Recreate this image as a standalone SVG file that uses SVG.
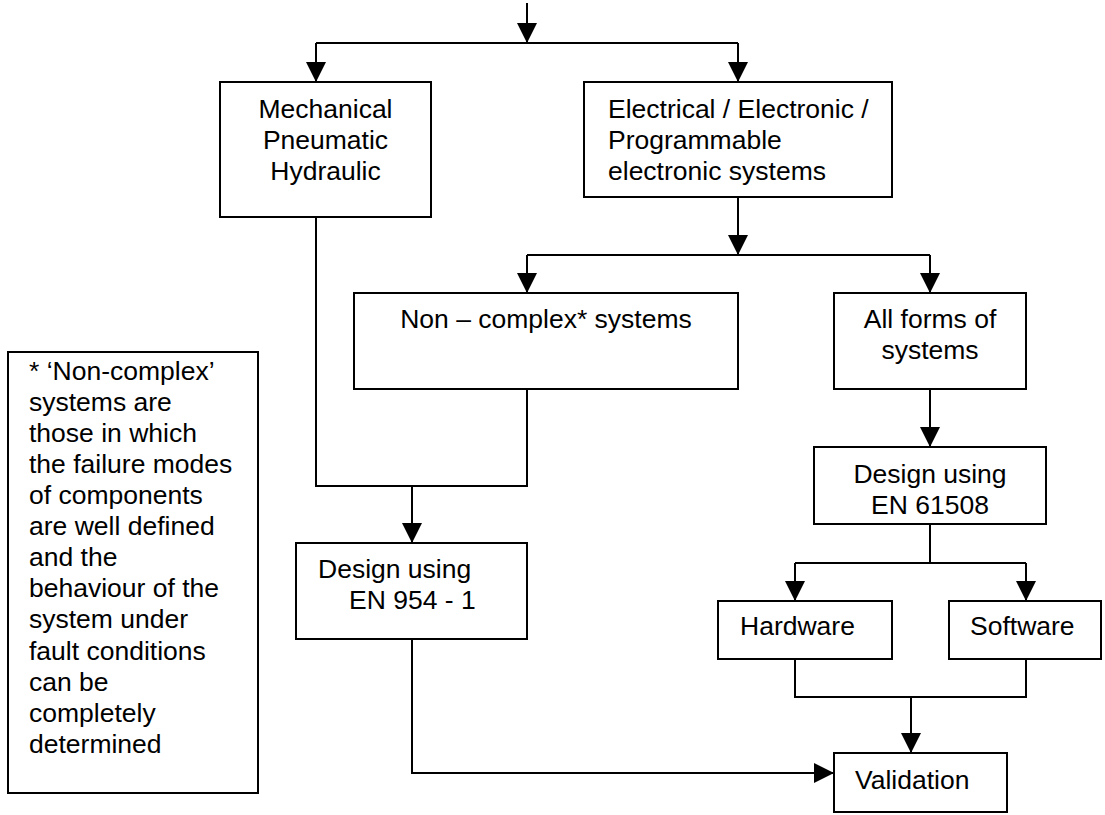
<svg xmlns="http://www.w3.org/2000/svg" width="1105" height="815" viewBox="0 0 1105 815">
<defs>
<marker id="arr" markerUnits="userSpaceOnUse" markerWidth="20" markerHeight="20" viewBox="0 0 20 20" refX="20" refY="10" orient="auto">
<path d="M0,0 L20,10 L0,20 z" fill="#000"/>
</marker>
<style>
.box{fill:#fff;stroke:#000;stroke-width:2}
.t{font-family:"Liberation Sans",Arial,sans-serif;font-size:26.5px;fill:#000}
.c{text-anchor:middle}
.ln{fill:none;stroke:#000;stroke-width:2}
.a{marker-end:url(#arr)}
</style>
</defs>
<rect width="1105" height="815" fill="#fff"/>
<g id="connectors">
<path class="ln a" d="M527,3 V43"/>
<path class="ln" d="M316,43 H738"/>
<path class="ln a" d="M316,43 V82"/>
<path class="ln a" d="M738,43 V82"/>
<path class="ln a" d="M738,197 V255"/>
<path class="ln" d="M527,255 H930"/>
<path class="ln a" d="M527,255 V293"/>
<path class="ln a" d="M930,255 V293"/>
<path class="ln" d="M316,217 V486 H527 V389"/>
<path class="ln a" d="M412,486 V543"/>
<path class="ln a" d="M930,389 V447"/>
<path class="ln" d="M930,524 V563 M795,563 H1026"/>
<path class="ln a" d="M795,563 V601"/>
<path class="ln a" d="M1026,563 V601"/>
<path class="ln" d="M795,659 V697 H1026 V659"/>
<path class="ln a" d="M911,697 V753"/>
<path class="ln a" d="M412,639 V773 H834"/>
</g>
<g id="mechanical">
<rect class="box" x="220" y="82" width="211" height="135"/>
<text class="t c" x="325.5" y="118">Mechanical</text>
<text class="t c" x="325.5" y="149">Pneumatic</text>
<text class="t c" x="325.5" y="180">Hydraulic</text>
</g>
<g id="electrical">
<rect class="box" x="584" y="82" width="308" height="115"/>
<text class="t" x="608" y="118">Electrical / Electronic /</text>
<text class="t" x="608" y="149">Programmable</text>
<text class="t" x="608" y="180">electronic systems</text>
</g>
<g id="noncomplex">
<rect class="box" x="354" y="293" width="384" height="96"/>
<text class="t c" x="546" y="328">Non – complex* systems</text>
</g>
<g id="allforms">
<rect class="box" x="834" y="293" width="192" height="96"/>
<text class="t c" x="930" y="328">All forms of</text>
<text class="t c" x="930" y="359">systems</text>
</g>
<g id="note">
<rect class="box" x="8" y="352" width="250" height="441"/>
<text class="t" x="29" y="380">* ‘Non-complex’</text>
<text class="t" x="29" y="411">systems are</text>
<text class="t" x="29" y="442">those in which</text>
<text class="t" x="29" y="473">the failure modes</text>
<text class="t" x="29" y="504">of components</text>
<text class="t" x="29" y="535">are well defined</text>
<text class="t" x="29" y="566">and the</text>
<text class="t" x="29" y="597">behaviour of the</text>
<text class="t" x="29" y="628">system under</text>
<text class="t" x="29" y="660">fault conditions</text>
<text class="t" x="29" y="691">can be</text>
<text class="t" x="29" y="722">completely</text>
<text class="t" x="29" y="753">determined</text>
</g>
<g id="design954">
<rect class="box" x="296" y="543" width="231" height="96"/>
<text class="t" x="318" y="578">Design using</text>
<text class="t" x="349" y="609">EN 954 - 1</text>
</g>
<g id="design61508">
<rect class="box" x="814" y="447" width="232" height="77"/>
<text class="t c" x="930" y="483">Design using</text>
<text class="t c" x="930" y="514">EN 61508</text>
</g>
<g id="hardware">
<rect class="box" x="718" y="601" width="174" height="58"/>
<text class="t" x="740" y="635">Hardware</text>
</g>
<g id="software">
<rect class="box" x="949" y="601" width="152" height="58"/>
<text class="t" x="970" y="635">Software</text>
</g>
<g id="validation">
<rect class="box" x="834" y="753" width="173" height="59"/>
<text class="t" x="855" y="789">Validation</text>
</g>
</svg>
